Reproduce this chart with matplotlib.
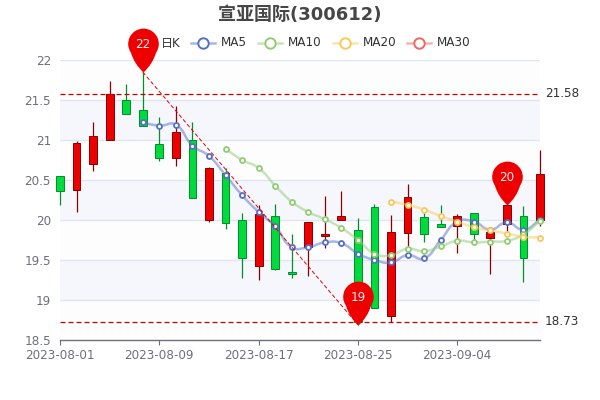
"""K-line chart of 宣亚国际 (300612) with moving averages and pin marks."""

import matplotlib

matplotlib.use("Agg")

import matplotlib.pyplot as plt
import numpy as np
from matplotlib.lines import Line2D
from matplotlib.patches import PathPatch, Rectangle
from matplotlib.path import Path
from matplotlib.transforms import IdentityTransform

plt.rcParams["font.family"] = ["DejaVu Sans", "Noto Sans CJK SC"]

dates = [
    "2023-08-01", "2023-08-02", "2023-08-03", "2023-08-04", "2023-08-07", "2023-08-08",
    "2023-08-09", "2023-08-10", "2023-08-11", "2023-08-14", "2023-08-15", "2023-08-16",
    "2023-08-17", "2023-08-18", "2023-08-21", "2023-08-22", "2023-08-23", "2023-08-24",
    "2023-08-25", "2023-08-28", "2023-08-29", "2023-08-30", "2023-08-31", "2023-09-01",
    "2023-09-04", "2023-09-05", "2023-09-06", "2023-09-07", "2023-09-08", "2023-09-11",
]
# green (falling) candles have open above close
opens = [
    20.55, 20.37, 20.70, 21.00, 21.50, 21.38, 20.95, 20.78, 21.00, 20.00,
    20.59, 20.00, 19.43, 20.05, 19.35, 19.66, 19.80, 20.00, 19.88, 20.16,
    18.80, 19.84, 20.04, 19.95, 19.92, 20.09, 19.77, 19.95, 20.05, 20.00,
]
closes = [
    20.36, 20.96, 21.05, 21.58, 21.32, 21.17, 20.78, 21.10, 20.28, 20.65,
    19.96, 19.53, 20.07, 19.39, 19.33, 19.97, 19.83, 20.05, 18.73, 18.90,
    19.85, 20.29, 19.82, 19.91, 20.05, 19.82, 19.85, 20.19, 19.52, 20.57,
]
lows = [
    20.19, 20.10, 20.61, 21.00, 21.32, 21.17, 20.74, 20.67, 20.27, 19.97,
    19.89, 19.28, 19.25, 19.38, 19.28, 19.30, 19.65, 20.00, 18.69, 18.90,
    18.72, 19.67, 19.72, 19.91, 19.59, 19.75, 19.33, 19.84, 19.22, 19.93,
]
highs = [
    20.55, 20.99, 21.23, 21.74, 21.70, 21.85, 21.29, 21.43, 21.22, 20.66,
    20.65, 20.09, 20.19, 20.20, 19.83, 19.97, 20.30, 20.36, 20.03, 20.20,
    20.06, 20.45, 20.09, 20.19, 20.08, 20.09, 19.91, 20.19, 20.18, 20.87,
]

ma5 = [
    21.22, 21.18, 21.19, 20.93, 20.80, 20.56, 20.31, 20.10, 19.92, 19.66, 19.66, 19.72,
    19.71, 19.58, 19.50, 19.47, 19.56, 19.52, 19.75, 19.98, 19.98, 19.88, 19.97, 19.88, 20.00,
]
ma10 = [
    20.89, 20.75, 20.65, 20.43, 20.23, 20.10, 20.01, 19.90, 19.75, 19.58,
    19.56, 19.64, 19.61, 19.67, 19.74, 19.72, 19.73, 19.74, 19.82, 19.99,
]
ma20 = [20.23, 20.19, 20.13, 20.05, 19.98, 19.91, 19.87, 19.83, 19.79, 19.78]

max_line = 21.58
min_line = 18.73
pin_idx = [5, 18, 27]
pin_val = [21.85, 18.69, 20.19]
pin_txt = ["22", "19", "20"]
trend_idx = [5, 18]
trend_val = [21.85, 18.69]

y_ticks = [18.5, 19, 19.5, 20, 20.5, 21, 21.5, 22]
y_labels = ["18.5", "19", "19.5", "20", "20.5", "21", "21.5", "22"]
x_tick_idx = [0, 6, 12, 18, 24]

RED, RED_EDGE = "#ec0000", "#8a0000"
GREEN, GREEN_EDGE = "#00da3c", "#008f28"
AXIS = "#6e7079"
GRID = "#e0e6f1"
BAND = "#f6f7fc"
MA_COLORS = {"MA5": "#5470c6", "MA10": "#91cc75", "MA20": "#fac858", "MA30": "#ee6666"}


def smooth_line(ax, xs, ys, color, zorder=6):
    """Same bezier smoothing ECharts uses, worked out in display pixels."""
    pts = ax.transData.transform(np.column_stack([xs, ys]))
    verts = [pts[0]]
    codes = [Path.MOVETO]
    n = len(pts)
    out_cp = pts[0]
    for i in range(1, n):
        p = pts[i]
        prev = pts[i - 1]
        nxt = pts[min(i + 1, n - 1)]
        l0 = np.hypot(*(p - prev))
        l1 = np.hypot(*(nxt - p))
        ratio = l1 / (l0 + l1) if l0 + l1 else 0.5
        d = nxt - prev
        in_cp = p - d * 0.5 * (1 - ratio)
        verts += [out_cp, in_cp, p]
        codes += [Path.CURVE4] * 3
        out_cp = p + d * 0.5 * ratio
    ax.add_patch(
        PathPatch(
            Path(verts, codes),
            fc="none",
            ec=color,
            lw=1.8,
            alpha=0.5,
            transform=IdentityTransform(),
            zorder=zorder,
            clip_on=False,
        )
    )
    ax.plot(xs, ys, ls="none", marker="o", ms=3.6, mfc="white", mec=color, mew=1.3, zorder=zorder + 1, clip_on=False)


def pin_marker():
    # tip at the origin, head radius 15.3 and centre 28.6 above it (pixels)
    arc = Path.arc(-35, 215)
    head = arc.vertices * 15.3 + [0, 28.6]
    verts = list(head) + [(head[-1][0] + 3, 9), (0, 0), (-head[-1][0] - 3, 9), head[0], (0, 0)]
    codes = list(arc.codes) + [Path.CURVE3] * 4 + [Path.CLOSEPOLY]
    return Path(verts, codes)


fig = plt.figure(figsize=(6, 4), dpi=100)
ax = fig.add_axes([60 / 600, 60 / 400, 480 / 600, 280 / 400])
ax.set_xlim(0, len(dates) - 1)
ax.set_ylim(18.5, 22)

# alternating bands behind the grid
for k, (lo, hi) in enumerate(zip(y_ticks[:-1], y_ticks[1:])):
    ax.add_patch(Rectangle((0, lo), len(dates) - 1, hi - lo, fc=BAND if k % 2 else "#fdfdfe", ec="none", zorder=0))
for v in y_ticks[1:]:
    ax.axhline(v, color=GRID, lw=1, zorder=1)

for sp in ("top", "left", "right"):
    ax.spines[sp].set_visible(False)
ax.spines["bottom"].set_color(AXIS)
ax.spines["bottom"].set_linewidth(1)
ax.spines["bottom"].set_zorder(2)

ax.set_yticks(y_ticks, y_labels)
ax.set_xticks(x_tick_idx, [dates[i] for i in x_tick_idx])
ax.tick_params(axis="y", length=0, pad=6.5, labelsize=8.64, labelcolor=AXIS)
ax.tick_params(axis="x", length=3.6, width=0.8, color=AXIS, pad=2.8, labelsize=8.64, labelcolor=AXIS)

x = np.arange(len(dates))
for i in x:
    up = closes[i] >= opens[i]
    fc, ec = (RED, RED_EDGE) if up else (GREEN, GREEN_EDGE)
    top, bot = max(opens[i], closes[i]), min(opens[i], closes[i])
    ax.vlines(i, lows[i], highs[i], color=ec, lw=0.9, zorder=3, clip_on=False)
    ax.bar(i, top - bot, bottom=bot, width=0.47, color=fc, edgecolor=ec, lw=0.7, zorder=4, clip_on=False)

smooth_line(ax, x[5:], ma5, MA_COLORS["MA5"], zorder=6)
smooth_line(ax, x[10:], ma10, MA_COLORS["MA10"], zorder=8)
smooth_line(ax, x[20:], ma20, MA_COLORS["MA20"], zorder=10)

for v in (max_line, min_line):
    ax.axhline(v, color="#c80000", lw=0.9, dashes=(4, 2.4), zorder=12)
    ax.annotate(f"{v:.2f}", (1, v), xycoords=("axes fraction", "data"), xytext=(3.6, 0), textcoords="offset points",
                ha="left", va="center", fontsize=8.64, color="#333333")
ax.plot(trend_idx, trend_val, color="#e60000", lw=0.7, dashes=(4, 2.4), zorder=12, clip_on=False)

pin = pin_marker()
# custom markers are normalised to their largest vertex, so size from that (px -> pt)
pin_ms = 2 * np.abs(pin.vertices).max() * 0.72
ax.plot(pin_idx, pin_val, ls="none", marker=pin, ms=pin_ms, mfc="#ee0000", mew=0, zorder=14, clip_on=False)
for i, v, t in zip(pin_idx, pin_val, pin_txt):
    ax.annotate(t, (i, v), xytext=(0, 20), textcoords="offset points", ha="center", va="center",
                fontsize=8.64, color="#eeeeee", zorder=15)

fig.text(0.5, 1 - 14.5 / 400, "宣亚国际(300612)", ha="center", va="center", fontsize=13, fontweight="bold", color="#464646")

# legend, laid out by hand in figure pixels
legend_y = 1 - 43 / 400
fig.text(161 / 600, legend_y, "日K", ha="left", va="center", fontsize=8.64, color="#333333", zorder=1)
for name, x0 in zip(MA_COLORS, (191, 258, 333, 407)):
    c = MA_COLORS[name]
    fig.add_artist(Line2D([x0 / 600, (x0 + 24) / 600], [legend_y, legend_y], color=c, lw=1.8, alpha=0.5))
    fig.add_artist(Line2D([(x0 + 12) / 600], [legend_y], ls="none", marker="o", ms=7.5, mfc="white", mec=c, mew=1.4))
    fig.text((x0 + 30) / 600, legend_y, name, ha="left", va="center", fontsize=8.64, color="#333333")

fig.savefig("out.png", dpi=100)
